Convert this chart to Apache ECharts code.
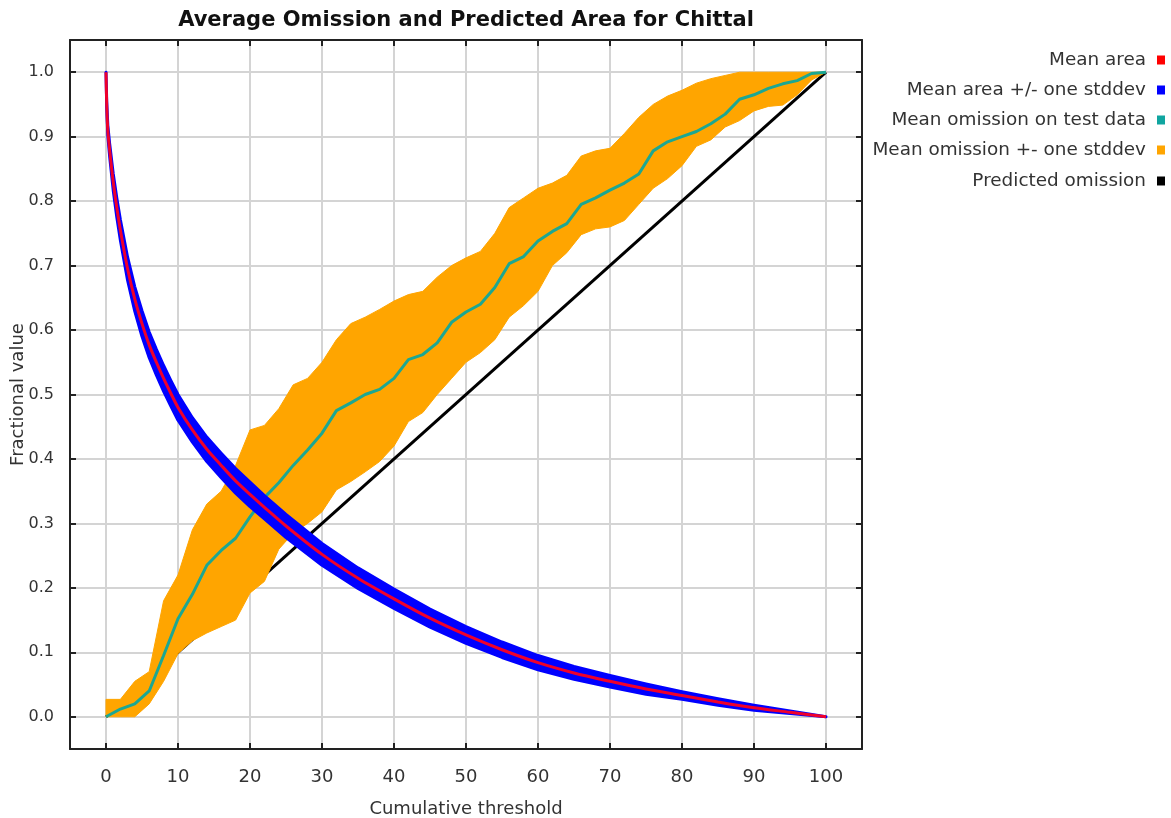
<!DOCTYPE html>
<html>
<head>
<meta charset="UTF-8">
<title>Average Omission and Predicted Area for Chittal</title>
<style>
html, body { margin: 0; padding: 0; background: #fff; }
#main { width: 1171px; height: 818px; }
</style>
</head>
<body>
<div id="main"></div>
<script src="https://cdn.jsdelivr.net/npm/echarts@6/dist/echarts.min.js"></script>
<script type="text/javascript">
    // mean predicted area (fraction of landscape) vs cumulative threshold
    var areaX = [0, 0.1, 0.25, 0.5, 1, 1.5, 2, 3, 4, 5, 6, 7, 8, 9, 10, 12, 14, 16, 18, 20,
        22, 25, 30, 35, 40, 45, 50, 55, 60, 65, 70, 75, 80, 85, 90, 95, 100];
    var meanArea = [1.0, 0.95, 0.91, 0.88, 0.83, 0.79, 0.755, 0.695, 0.648, 0.61, 0.577, 0.55, 0.525, 0.502, 0.48, 0.445, 0.415, 0.39, 0.366, 0.345,
        0.325, 0.296, 0.252, 0.215, 0.183, 0.153, 0.127, 0.104, 0.084, 0.068, 0.055, 0.043, 0.033, 0.023, 0.014, 0.007, 0.0];
    var areaSd = [0, 0.005, 0.008, 0.01, 0.013, 0.015, 0.016, 0.018, 0.019, 0.02, 0.02, 0.02, 0.02, 0.02, 0.02, 0.019, 0.019, 0.019, 0.019, 0.019,
        0.018, 0.018, 0.017, 0.016, 0.015, 0.014, 0.013, 0.012, 0.011, 0.01, 0.009, 0.008, 0.006, 0.005, 0.004, 0.002, 0];

    // omission on test data
    var omitX = [0, 2, 4, 6, 8, 10, 12, 14, 16, 18, 20, 22, 24, 26, 28, 30, 32, 34, 36, 38, 40, 42, 44, 46, 48, 50,
        52, 54, 56, 58, 60, 62, 64, 66, 68, 70, 72, 74, 76, 78, 80, 82, 84, 86, 88, 90, 92, 94, 96, 98, 100];
    var meanOmission = [0.0, 0.012, 0.02, 0.04, 0.095, 0.152, 0.19, 0.235, 0.258, 0.277, 0.31, 0.34, 0.363, 0.39, 0.414, 0.44, 0.475, 0.487, 0.5, 0.508, 0.525, 0.554, 0.562, 0.58, 0.612, 0.628,
        0.64, 0.666, 0.703, 0.714, 0.738, 0.753, 0.765, 0.795, 0.805, 0.817, 0.828, 0.842, 0.878, 0.892, 0.9, 0.908, 0.92, 0.935, 0.958, 0.965, 0.975, 0.982, 0.987, 0.998, 1.0];
    var omissionLow = [0, 0, 0, 0.02, 0.055, 0.098, 0.118, 0.13, 0.14, 0.15, 0.192, 0.21, 0.26, 0.285, 0.3, 0.318, 0.352, 0.365, 0.38, 0.396, 0.42, 0.458, 0.472, 0.5, 0.525, 0.55,
        0.565, 0.585, 0.62, 0.638, 0.66, 0.7, 0.72, 0.748, 0.757, 0.76, 0.77, 0.795, 0.82, 0.835, 0.855, 0.885, 0.895, 0.915, 0.925, 0.94, 0.947, 0.949, 0.965, 0.988, 1.0];
    var omissionHigh = [0.027, 0.027, 0.055, 0.07, 0.18, 0.22, 0.29, 0.33, 0.35, 0.39, 0.445, 0.452, 0.478, 0.515, 0.525, 0.55, 0.585, 0.61, 0.62, 0.632, 0.645, 0.655, 0.66, 0.682, 0.7, 0.712,
        0.722, 0.75, 0.79, 0.805, 0.82, 0.828, 0.84, 0.87, 0.878, 0.882, 0.905, 0.93, 0.95, 0.963, 0.972, 0.983, 0.99, 0.995, 1.0, 1.0, 1.0, 1.0, 1.0, 1.0, 1.0];

    var predX = [0, 100];
    var predOmission = [0, 1];

    var xTicks = [0, 10, 20, 30, 40, 50, 60, 70, 80, 90, 100];
    var yTicks = [0, 0.1, 0.2, 0.3, 0.4, 0.5, 0.6, 0.7, 0.8, 0.9, 1.0];

    var legendNames = ['Mean area', 'Mean area +/- one stddev', 'Mean omission on test data',
        'Mean omission +- one stddev', 'Predicted omission'];

    function pairs(xs, ys) {
        var out = [];
        for (var i = 0; i < xs.length; i++) out.push([xs[i], ys[i]]);
        return out;
    }

    var areaLow = [], areaHigh = [];
    for (var i = 0; i < areaX.length; i++) {
        areaLow.push(Math.max(0, meanArea[i] - areaSd[i]));
        areaHigh.push(Math.min(1, meanArea[i] + areaSd[i]));
    }

    // filled band between two curves, drawn as one polygon through the axis scales
    function bandSeries(name, xs, lo, hi, color, edge, z) {
        return {
            name: name,
            type: 'custom',
            silent: true,
            z: z,
            itemStyle: { color: color },
            data: xs.map(function (x, k) { return [x, lo[k], hi[k]]; }),
            encode: { x: 0, y: [1, 2] },
            renderItem: function (params, api) {
                if (params.dataIndex !== 0) return null;
                var pts = [];
                for (var k = 0; k < xs.length; k++) pts.push(api.coord([xs[k], hi[k]]));
                for (var m = xs.length - 1; m >= 0; m--) pts.push(api.coord([xs[m], lo[m]]));
                return {
                    type: 'polygon',
                    shape: { points: pts },
                    style: { fill: color, stroke: color, lineWidth: edge, lineJoin: 'round' }
                };
            }
        };
    }

    var FONT = 'DejaVu Sans';
    var AXIS_COLOR = '#222';
    var TEXT_COLOR = '#333';

    function frameAxis(pos, isX, showLabel) {
        return {
            type: 'value',
            position: pos,
            min: isX ? -5 : -0.05,
            max: isX ? 105 : 1.05,
            axisLine: { show: true, onZero: false, lineStyle: { color: AXIS_COLOR, width: 2 } },
            axisTick: { show: true, inside: true, length: 6, customValues: isX ? xTicks : yTicks,
                lineStyle: { color: AXIS_COLOR, width: 2 } },
            axisLabel: {
                show: showLabel,
                customValues: isX ? xTicks : yTicks,
                margin: isX ? 19 : 16,
                fontSize: isX ? 18 : 16,
                fontFamily: FONT,
                color: TEXT_COLOR,
                formatter: function (v) { return isX ? String(Math.round(v)) : v.toFixed(1); }
            },
            splitLine: { show: showLabel, lineStyle: { color: '#d4d4d4', width: 2 } }
        };
    }

    var xMain = frameAxis('bottom', true, true);
    xMain.name = 'Cumulative threshold';
    xMain.nameLocation = 'middle';
    xMain.nameGap = 51;
    xMain.nameMoveOverlap = false;
    xMain.nameTextStyle = { fontSize: 18, fontFamily: FONT, color: TEXT_COLOR };
    var yMain = frameAxis('left', false, true);
    yMain.name = 'Fractional value';
    yMain.nameLocation = 'middle';
    yMain.nameGap = 43;
    yMain.nameMoveOverlap = false;
    yMain.nameTextStyle = { fontSize: 18, fontFamily: FONT, color: TEXT_COLOR };

    var legendCenters = [59, 89, 119, 149, 180];
    var legends = legendNames.map(function (n, k) {
        return {
            data: [n],
            orient: 'vertical',
            align: 'right',
            right: 6,
            top: legendCenters[k] - 8,
            padding: 0,
            icon: 'rect',
            itemWidth: 8,
            itemHeight: 9,
            selectedMode: false,
            textStyle: { fontSize: 18.4, fontFamily: FONT, color: TEXT_COLOR, padding: [0, 6, 0, 0] }
        };
    });

    var option = {
        animation: false,
        backgroundColor: '#fff',
        graphic: [{
            type: 'text',
            x: 466,
            y: 21,
            style: {
                text: 'Average Omission and Predicted Area for Chittal',
                fontSize: 21,
                fontWeight: 'bold',
                fontFamily: FONT,
                fill: '#111',
                align: 'center',
                verticalAlign: 'middle'
            }
        }],
        legend: legends,
        grid: { left: 70, top: 40, right: 309, bottom: 69, containLabel: false, outerBoundsMode: 'none' },
        xAxis: [xMain, frameAxis('top', true, false)],
        yAxis: [yMain, frameAxis('right', false, false)],
        series: [
            {
                name: 'Predicted omission', type: 'line', symbol: 'none', silent: true, z: 1,
                data: pairs(predX, predOmission),
                itemStyle: { color: '#000' },
                lineStyle: { color: '#000', width: 3 }
            },
            bandSeries('Mean omission +- one stddev', omitX, omissionLow, omissionHigh, '#ffa500', 1, 2),
            {
                name: 'Mean omission on test data', type: 'line', symbol: 'none', silent: true, z: 3,
                data: pairs(omitX, meanOmission),
                itemStyle: { color: '#10a5a0' },
                lineStyle: { color: '#1ca792', width: 3 }
            },
            bandSeries('Mean area +/- one stddev', areaX, areaLow, areaHigh, '#0000ff', 3, 4),
            {
                name: 'Mean area', type: 'line', symbol: 'none', silent: true, smooth: 0.3, z: 5,
                data: pairs(areaX, meanArea),
                itemStyle: { color: '#ff0000' },
                lineStyle: { color: '#f0002a', width: 3 }
            }
        ]
    };

    var myChart = echarts.init(document.getElementById('main'));
    myChart.setOption(option);
</script>
</body>
</html>
